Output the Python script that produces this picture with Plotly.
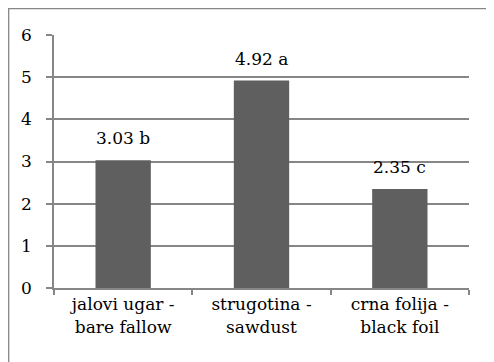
import plotly.graph_objects as go

# podaci
kategorije = ["jalovi ugar -<br>bare fallow", "strugotina -<br>sawdust", "crna folija -<br>black foil"]
vrijednosti = [3.03, 4.92, 2.35]
oznake = ["3.03 b", "4.92 a", "2.35 c"]

siva = "#868686"
font = dict(family="DejaVu Serif", size=17, color="black")

fig = go.Figure()
fig.add_trace(go.Bar(x=kategorije, y=vrijednosti, marker=dict(color="#5f5f5f", line=dict(width=0)),
                     showlegend=False, hoverinfo="skip"))

# oznake iznad stupaca
for k, v, t in zip(kategorije, vrijednosti, oznake):
    fig.add_annotation(x=k, y=v, text=t, showarrow=False, yshift=22, font=font)

# okvir grafikona (uz rub slike)
fig.add_shape(type="rect", xref="paper", yref="paper",
              x0=(0.7 - 46) / 415, x1=1.2, y0=-0.5, y1=1 + (27 - 0.7) / 253,
              line=dict(color=siva, width=1.3), layer="above")

fig.update_layout(
    width=494, height=362,
    margin=dict(l=46, r=33, t=27, b=82),
    paper_bgcolor="white", plot_bgcolor="white",
    font=font, bargap=0.6,
)
fig.update_xaxes(showline=True, linecolor=siva, linewidth=2, tickson="boundaries",
                 ticks="outside", ticklen=5, tickcolor=siva, tickwidth=2, showgrid=False)
fig.update_yaxes(range=[0, 6], dtick=1, showline=True, linecolor=siva, linewidth=2,
                 ticks="outside", ticklen=6, tickcolor=siva, tickwidth=2,
                 gridcolor=siva, gridwidth=1.5, zeroline=False, ticksuffix="  ")

fig.write_html("out.html")
